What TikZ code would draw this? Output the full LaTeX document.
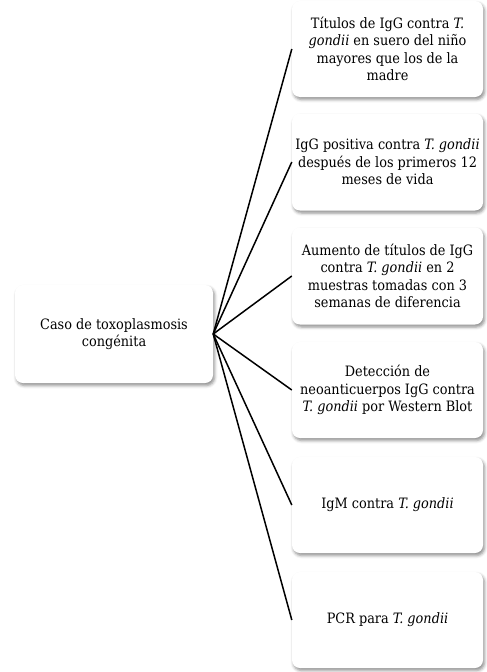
\documentclass[tikz,border=0pt]{standalone}
\usepackage{fontspec}
\setmainfont{DejaVu Serif Condensed}
\usetikzlibrary{shadows.blur}
\begin{document}
\begin{tikzpicture}[x=1pt,y=-1pt,
  card/.style={rectangle, rounded corners=8pt, fill=white, draw=none,
    blur shadow={shadow xshift=1.5pt, shadow yshift=-2.5pt, shadow blur radius=3pt, shadow opacity=45},
    align=center, font=\fontsize{14.3}{17.5}\selectfont, inner sep=0pt},
  link/.style={line width=1.5pt, black}]
\useasboundingbox (0,0) rectangle (487,672);
% root
\node[card, minimum width=198pt, minimum height=98pt] (root) at (114,334)
  {Caso de toxoplasmosis\\congénita};
% criteria, stacked on the right
\node[card, minimum width=191pt, minimum height=96pt] (c1) at (387.5,49)
  {Títulos de IgG contra \textit{T.}\\\textit{gondii} en suero del niño\\mayores que los de la\\madre};
\node[card, minimum width=191pt, minimum height=97pt] (c2) at (387.5,162)
  {IgG positiva contra \textit{T. gondii}\\después de los primeros 12\\meses de vida};
\node[card, minimum width=191pt, minimum height=97pt] (c3) at (387.5,276)
  {Aumento de títulos de IgG\\contra \textit{T. gondii} en 2\\muestras tomadas con 3\\semanas de diferencia};
\node[card, minimum width=191pt, minimum height=96pt] (c4) at (387.5,390)
  {Detección de\\neoanticuerpos IgG contra\\\textit{T. gondii} por Western Blot};
\node[card, minimum width=191pt, minimum height=96pt] (c5) at (387.5,505)
  {IgM contra \textit{T. gondii}};
\node[card, minimum width=191pt, minimum height=96pt] (c6) at (387.5,620)
  {PCR para \textit{T. gondii}};
% connectors from the root to each criterion
\foreach \n in {c1,c2,c3,c4,c5,c6}
  \draw[link] (root.east) -- (\n.west);
\end{tikzpicture}
\end{document}
